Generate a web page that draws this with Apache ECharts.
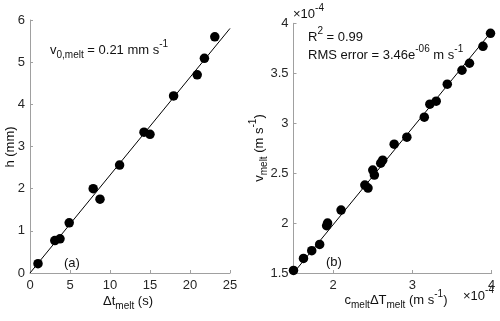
<!DOCTYPE html>
<html>
<head>
<meta charset="utf-8">
<script src="https://cdn.jsdelivr.net/npm/echarts@6/dist/echarts.min.js"></script>
<style>html,body{margin:0;padding:0;background:#fff}#c{width:500px;height:321px}</style>
</head>
<body>
<div id="c"></div>
<script>
// Panel (a): melt time (s) vs height (mm)
var dtMelt = [1.0, 3.1, 3.75, 4.9, 7.9, 8.75, 11.2, 14.25, 15.0, 17.95, 20.9, 21.8, 23.1];
var hMelt  = [0.22, 0.77, 0.81, 1.19, 2.0, 1.75, 2.56, 3.34, 3.29, 4.2, 4.7, 5.09, 5.6];
var fitAx = [0, 25];
var fitAy = [0, 5.8];
// Panel (b): values in units of 1e-4 m/s
var cdT   = [1.5, 1.626, 1.73, 1.83, 1.918, 1.93, 2.1, 2.40, 2.44, 2.5, 2.52, 2.60, 2.625, 2.77, 2.93, 3.15, 3.22, 3.30, 3.44, 3.625, 3.72, 3.89, 3.985];
var vMelt = [1.526, 1.646, 1.723, 1.786, 1.973, 2.0, 2.13, 2.38, 2.35, 2.53, 2.48, 2.60, 2.63, 2.79, 2.86, 3.06, 3.19, 3.22, 3.39, 3.53, 3.60, 3.77, 3.90];
var fitBx = [1.5, 4.0];
var fitBy = [1.5, 3.92];
var xTicksB = [2, 3, 4];

function pairs(a, b) { return a.map(function (v, i) { return [v, b[i]]; }); }

var FONT = '"Liberation Sans", Arial, Helvetica, sans-serif';
var axisCol = '#a0a0a0';
var labCol = '#262626';

function axisCommon() {
  return {
    axisLine: { show: true, lineStyle: { color: axisCol, width: 1 } },
    axisTick: { show: true, inside: true, length: 3, lineStyle: { color: axisCol } },
    axisLabel: { color: labCol, fontSize: 13, fontFamily: FONT, margin: 5 },
    splitLine: { show: false }
  };
}

var richBase = {
  m: { fontSize: 13, fontFamily: FONT, fill: '#111', lineHeight: 21, verticalAlign: 'middle' },
  sub: { fontSize: 10, fontFamily: FONT, fill: '#111', lineHeight: 10, verticalAlign: 'bottom' },
  sup: { fontSize: 10, fontFamily: FONT, fill: '#111', lineHeight: 10, verticalAlign: 'top' }
};

function rtext(x, y, text, align, rot) {
  return {
    type: 'text', x: x, y: y, rotation: rot || 0,
    style: { text: text, rich: richBase, align: align || 'left', verticalAlign: 'middle', fill: '#111', font: '13px ' + FONT }
  };
}

var chart = echarts.init(document.getElementById('c'), null, { renderer: 'canvas' });
var xa0 = axisCommon(), ya0 = axisCommon(), xa1 = axisCommon(), ya1 = axisCommon();
xa0.axisLabel.margin = 6; xa1.axisLabel.margin = 6;
xa1.axisLabel.customValues = xTicksB;
xa1.axisTick.customValues = xTicksB;

chart.setOption({
  animation: false,
  grid: [
    { left: 30, right: 270, top: 20, bottom: 48, containLabel: false },
    { left: 293.5, right: 8.3, top: 23.3, bottom: 48, containLabel: false }
  ],
  xAxis: [
    Object.assign({ type: 'value', gridIndex: 0, min: 0, max: 25, interval: 5 }, xa0),
    Object.assign({ type: 'value', gridIndex: 1, min: 1.5, max: 4 }, xa1)
  ],
  yAxis: [
    Object.assign({ type: 'value', gridIndex: 0, min: 0, max: 6, interval: 1 }, ya0),
    Object.assign({ type: 'value', gridIndex: 1, min: 1.5, max: 4, interval: 0.5 }, ya1)
  ],
  series: [
    { type: 'line', xAxisIndex: 0, yAxisIndex: 0, data: pairs(fitAx, fitAy), showSymbol: false, symbol: 'none',
      lineStyle: { color: '#000', width: 1 }, z: 2 },
    { type: 'scatter', xAxisIndex: 0, yAxisIndex: 0, data: pairs(dtMelt, hMelt), symbol: 'circle', symbolSize: 9.5,
      itemStyle: { color: '#000', opacity: 1 }, z: 3 },
    { type: 'line', xAxisIndex: 1, yAxisIndex: 1, data: pairs(fitBx, fitBy), showSymbol: false, symbol: 'none',
      lineStyle: { color: '#000', width: 1 }, z: 2 },
    { type: 'scatter', xAxisIndex: 1, yAxisIndex: 1, data: pairs(cdT, vMelt), symbol: 'circle', symbolSize: 9.5,
      itemStyle: { color: '#000', opacity: 1 }, z: 3 }
  ],
  graphic: [
    rtext(50, 50, '{m|v}{sub|0,melt}{m| = 0.21 mm s}{sup|-1}', 'left'),
    rtext(64, 263, '{m|(a)}', 'left'),
    rtext(326, 262, '{m|(b)}', 'left'),
    rtext(308, 37, '{m|R}{sup|2}{m| = 0.99}', 'left'),
    rtext(308, 55, '{m|RMS error = 3.46e}{sup|-06}{m| m s}{sup|-1}', 'left'),
    rtext(293, 14, '{m|×10}{sup|-4}', 'left'),
    rtext(463, 296, '{m|×10}{sup|-4}', 'left'),
    rtext(128, 301, '{m|Δt}{sub|melt}{m| (s)}', 'center'),
    rtext(396, 300, '{m|c}{sub|melt}{m|ΔT}{sub|melt}{m| (m s}{sup|-1}{m|)}', 'center'),
    rtext(10, 147, '{m|h (mm)}', 'center', Math.PI / 2),
    rtext(259, 148, '{m|v}{sub|melt}{m| (m s}{sup|-1}{m|)}', 'center', Math.PI / 2)
  ]
});
</script>
</body>
</html>
